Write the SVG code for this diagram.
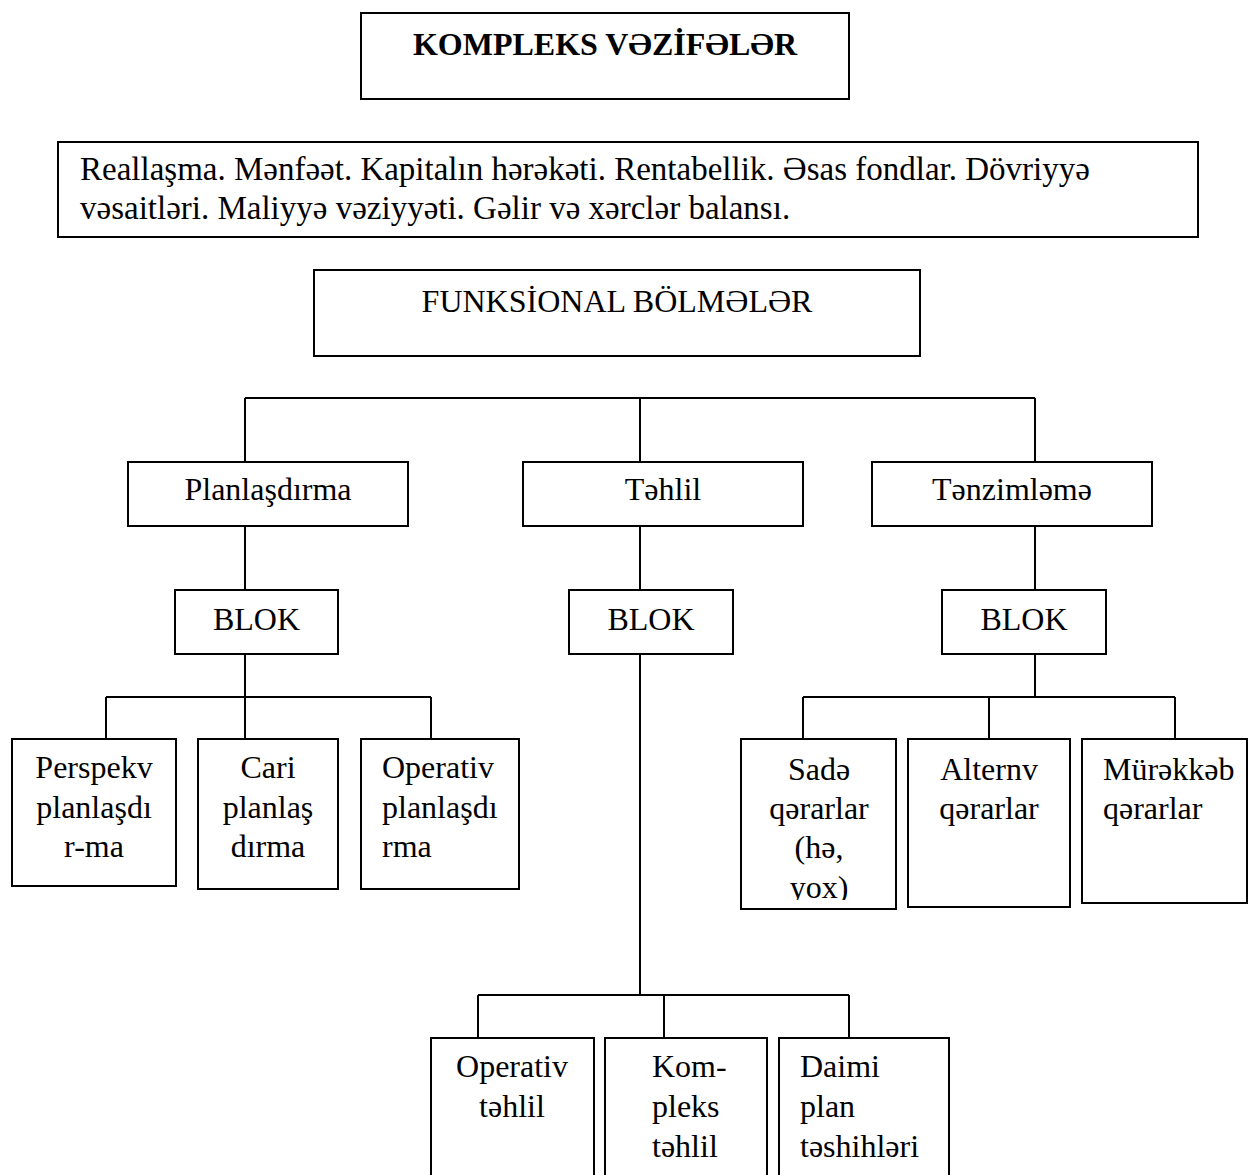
<svg xmlns="http://www.w3.org/2000/svg" width="1249" height="1175" viewBox="0 0 1249 1175">
<style>
.box{fill:#fff;stroke:#000;stroke-width:2}
.ln{fill:none;stroke:#000;stroke-width:2}
text{font-family:"Liberation Serif","Times New Roman","DejaVu Serif",serif;font-size:32px;fill:#000}
.c{text-anchor:middle}
.b{font-weight:bold}
.t{font-size:33px}
</style>
<defs>
<clipPath id="clipSade"><rect x="741" y="739" width="155" height="161"/></clipPath>
</defs>
<rect width="1249" height="1175" fill="#fff"/>
<g id="connectors">
<path class="ln" d="M245 398H1035M245 398V462M640 398V462M1035 398V462"/>
<path class="ln" d="M245 526V590M640 526V590M1035 526V590"/>
<path class="ln" d="M245 654V739M106 697H431M106 697V739M431 697V739"/>
<path class="ln" d="M1035 654V697M803 697H1175M803 697V739M989 697V739M1175 697V739"/>
<path class="ln" d="M640 654V995M478 995H849M478 995V1038M664 995V1038M849 995V1038"/>
</g>
<g id="title"><rect class="box" x="361" y="13" width="488" height="86"/><text class="c b" x="605" y="55">KOMPLEKS VƏZİFƏLƏR</text></g>
<g id="tasks"><rect class="box" x="58" y="142" width="1140" height="95"/><text class="t" x="80" y="180">Reallaşma. Mənfəət. Kapitalın hərəkəti. Rentabellik. Əsas fondlar. Dövriyyə</text><text class="t" x="80" y="219">vəsaitləri. Maliyyə vəziyyəti. Gəlir və xərclər balansı.</text></g>
<g id="funksional"><rect class="box" x="314" y="270" width="606" height="86"/><text class="c" x="617" y="312">FUNKSİONAL BÖLMƏLƏR</text></g>
<g id="planlasdirma"><rect class="box" x="128" y="462" width="280" height="64"/><text class="c" x="268" y="500">Planlaşdırma</text></g>
<g id="tehlil"><rect class="box" x="523" y="462" width="280" height="64"/><text class="c" x="663" y="500">Təhlil</text></g>
<g id="tenzimleme"><rect class="box" x="872" y="462" width="280" height="64"/><text class="c" x="1012" y="500">Tənzimləmə</text></g>
<g id="blok1"><rect class="box" x="175" y="590" width="163" height="64"/><text class="c" x="256.5" y="630">BLOK</text></g>
<g id="blok2"><rect class="box" x="569" y="590" width="164" height="64"/><text class="c" x="651" y="630">BLOK</text></g>
<g id="blok3"><rect class="box" x="942" y="590" width="164" height="64"/><text class="c" x="1024" y="630">BLOK</text></g>
<g id="perspekv"><rect class="box" x="12" y="739" width="164" height="147"/><text class="c" x="94" y="778">Perspekv</text><text class="c" x="94" y="818">planlaşdı</text><text class="c" x="94" y="857">r-ma</text></g>
<g id="cari"><rect class="box" x="198" y="739" width="140" height="150"/><text class="c" x="268" y="778">Cari</text><text class="c" x="268" y="818">planlaş</text><text class="c" x="268" y="857">dırma</text></g>
<g id="operativ-plan"><rect class="box" x="361" y="739" width="158" height="150"/><text x="382" y="778">Operativ</text><text x="382" y="818">planlaşdı</text><text x="382" y="857">rma</text></g>
<g id="sade"><rect class="box" x="741" y="739" width="155" height="170"/><g clip-path="url(#clipSade)"><text class="c" x="819" y="780">Sadə</text><text class="c" x="819" y="819">qərarlar</text><text class="c" x="819" y="858">(hə,</text><text class="c" x="819" y="898">yox)</text></g></g>
<g id="alternv"><rect class="box" x="908" y="739" width="162" height="168"/><text class="c" x="989" y="780">Alternv</text><text class="c" x="989" y="819">qərarlar</text></g>
<g id="murekkeb"><rect class="box" x="1082" y="739" width="165" height="164"/><text x="1103" y="780">Mürəkkəb</text><text x="1103" y="819">qərarlar</text></g>
<g id="operativ-tehlil"><rect class="box" x="431" y="1038" width="163" height="150"/><text class="c" x="512" y="1077">Operativ</text><text class="c" x="512" y="1117">təhlil</text></g>
<g id="kompleks-tehlil"><rect class="box" x="605" y="1038" width="162" height="150"/><text x="652" y="1077">Kom-</text><text x="652" y="1117">pleks</text><text x="652" y="1157">təhlil</text></g>
<g id="daimi"><rect class="box" x="779" y="1038" width="170" height="150"/><text x="800" y="1077">Daimi</text><text x="800" y="1117">plan</text><text x="800" y="1157">təshihləri</text></g>
</svg>
